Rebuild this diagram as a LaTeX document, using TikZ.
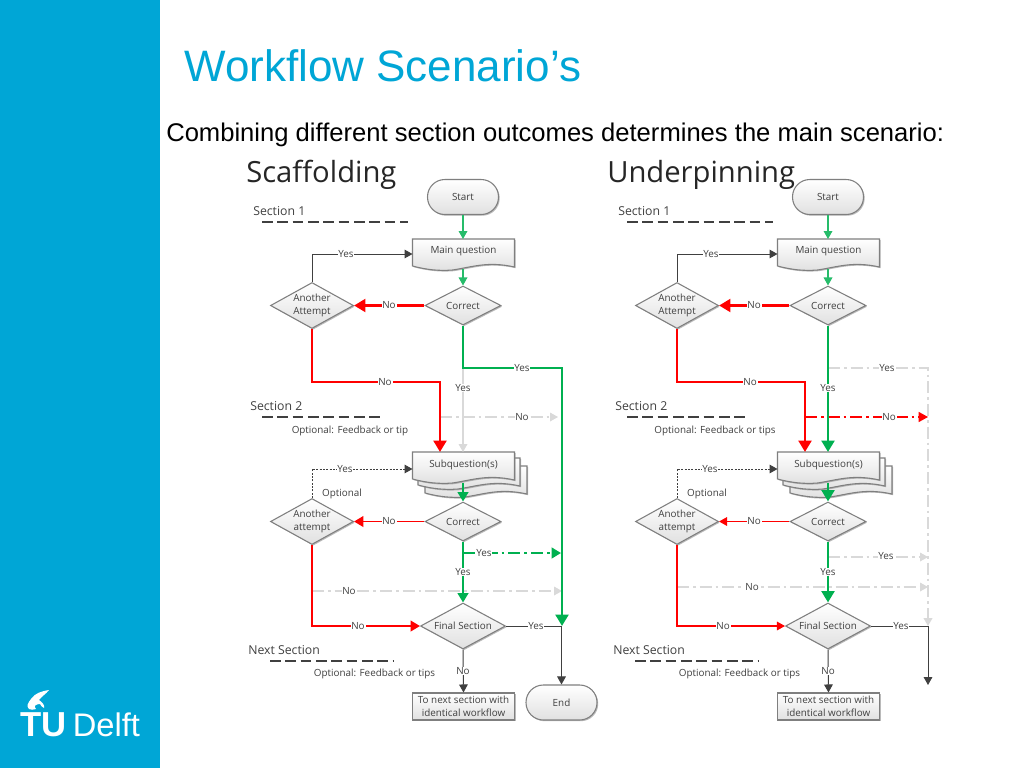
\documentclass[tikz,border=0pt]{standalone}
\usepackage{fontspec}
\setmainfont{Liberation Sans}
\newfontfamily\chartfont{Open Sans}
\usetikzlibrary{shapes.geometric,arrows.meta,shadows}
\definecolor{tublue}{HTML}{00A6D6}
\definecolor{gogreen}{HTML}{00B050}
\definecolor{flowgrey}{HTML}{404040}
\definecolor{ghost}{HTML}{D9D9D9}
\definecolor{edgegrey}{HTML}{7F7F7F}
\tikzset{
  softshadow/.style={drop shadow={shadow xshift=.9pt,shadow yshift=-.9pt,fill=black!45,opacity=.6}},
  boxfill/.style={draw=edgegrey,line width=.8pt,top color=white,bottom color=black!12,softshadow},
  startbox/.style={boxfill,rectangle,rounded corners=13pt,minimum width=71*.75pt,minimum height=35*.75pt,inner sep=0pt},
  choice/.style={boxfill,diamond,inner sep=0pt,align=center,minimum width=76*.75pt,minimum height=39*.75pt,aspect=2},
  bigchoice/.style={boxfill,diamond,inner sep=0pt,align=center,minimum width=#1*.75pt,minimum height=46*.75pt,aspect=1.8},
  plainbox/.style={boxfill,rectangle,align=center,inner sep=0pt,minimum width=102*.75pt,minimum height=27*.75pt},
  docsheet/.style={boxfill},
  docanchor/.style={rectangle,inner sep=0pt,minimum width=102*.75pt,minimum height=30*.75pt},
  small/.style={font=\chartfont\fontsize{7.4pt}{9.4pt}\selectfont,text=flowgrey},
  lab/.style={small,fill=white,inner sep=.6pt},
  sect/.style={font=\chartfont\fontsize{9.2pt}{11pt}\selectfont,text=flowgrey,anchor=west,inner sep=0pt},
  free/.style={small,inner sep=0pt},
  sectline/.style={draw=flowgrey,line width=.8pt,dash pattern=on 8pt off 3.5pt},
  thin tip/.style={-{Triangle[length=6pt,width=6.5pt]}},
  fat tip/.style={-{Triangle[length=8.5pt,width=9.5pt]}},
  grey line/.style={draw=flowgrey,line width=.75pt,thin tip},
  grey dots/.style={grey line,dash pattern=on 1.5pt off 1pt},
  fat red/.style={draw=red,line width=2.2pt,fat tip},
  mid red/.style={draw=red,line width=1.3pt,-{Triangle[length=7pt,width=8pt]}},
  thin red/.style={draw=red,line width=.8pt,thin tip},
  fat green/.style={draw=gogreen,line width=2.2pt,fat tip},
  mid green/.style={draw=gogreen,line width=1.5pt,-{Triangle[length=7pt,width=8pt]}},
  thin green/.style={draw=gogreen!85!white,line width=.9pt,thin tip},
  dashdot/.style={dash pattern=on 9pt off 3pt on 2pt off 3pt},
  ghost line/.style={draw=ghost,line width=.9pt,dashdot,thin tip},
  title text/.style={font=\fontsize{33pt}{36pt}\selectfont,text=tublue,anchor=west,inner sep=0pt},
  sub text/.style={font=\fontsize{19.2pt}{22pt}\selectfont,text=black,anchor=west,inner sep=0pt},
  head text/.style={font=\chartfont\fontsize{21.9pt}{24pt}\selectfont,text=black!85,anchor=west,inner sep=0pt},
  logo bold/.style={font=\bfseries\fontsize{26pt}{28pt}\selectfont,text=white,anchor=base west,inner sep=0pt},
  logo thin/.style={font=\fontsize{24.5pt}{28pt}\selectfont,text=white,anchor=base west,inner sep=0pt},
}
\newcommand{\docwave}[2]{\draw[docsheet,shift={(#1,#2)}] (0,0) -- (102,0) -- (102,28)
  .. controls (75,22) and (60,28) .. (40,31) .. controls (27,32) and (15,31) .. (0,27) -- cycle;}
\newcommand{\lab}[4]{\node[lab] (#1) at (#2,#3) {#4};}
\newcommand{\chartnodes}[1]{%
  \node[startbox,small] (start) at (463,197) {Start};
  \docwave{412.5}{239}
  \node[docanchor,small] (mq) at (463.5,251) {Main question};
  \coordinate (mqn) at (463,239);
  \coordinate (mqs) at (463,269);
  \coordinate (mqw) at (412.5,254);
  \node[choice,small] (c1) at (463,305.5) {Correct};
  \node[bigchoice=83,small] (a1) at (312,305.5) {Another\\Attempt};
  \docwave{425}{466}
  \docwave{418}{458}
  \docwave{412.5}{452}
  \node[docanchor,small] (sq) at (463.5,464.5) {Subquestion(s)};
  \coordinate (sqs) at (463,483);
  \coordinate (sqn) at (463,452);
  \coordinate (sqw) at (412.5,469);
  \node[choice,small] (c2) at (463,521.5) {Correct};
  \node[bigchoice=83,small] (a2) at (312,521.5) {Another\\attempt};
  \node[bigchoice=85,small] (fs) at (463,626) {Final Section};
  \node[plainbox,small] (nx) at (463.5,706.5) {To next section with\\identical workflow};
  \node[sect] (s1) at (253,211) {Section 1};
  \node[sect] (s2) at (250,406.5) {Section 2};
  \node[sect] (s3) at (248,650) {Next Section};
  \coordinate (d1a) at (262,222); \coordinate (d1b) at (408,222);
  \coordinate (d2a) at (262,417); \coordinate (d2b) at (384,417);
  \coordinate (d3a) at (270,661); \coordinate (d3b) at (393,661);
  \draw[sectline] (d1a) -- (d1b);
  \draw[sectline] (d2a) -- (d2b);
  \draw[sectline] (d3a) -- (d3b);
  \node[free] (opt1) at (350,431) {Optional: Feedback or #1};
  \node[free] (opt2) at (342,493.5) {Optional};
  \node[free] (opt3) at (374.5,674) {Optional: Feedback or tips};
  \draw[thin green] (start) -- (mqn);
  \draw[thin green] (mqs) -- (c1);
  \draw[grey line] (a1.north) |- (mqw);
  \draw[grey dots] (a2.north) |- (sqw);
  \draw[grey line] (fs.south) -- (nx.north);
}
\begin{document}
\begin{tikzpicture}[x=.75pt,y=-.75pt]
\useasboundingbox (0,0) rectangle (1024,768);
\fill[white] (0,0) rectangle (1024,768);
\fill[tublue] (0,0) rectangle (160,768);
% logo
\fill[white] (49,690) .. controls (42,691) and (35,693) .. (31,699) .. controls (28,703) and (26,706) .. (29,709)
  .. controls (31,710) and (33,710) .. (36,709) .. controls (33,706) and (36,704) .. (40,704) .. controls (41,706) and (42,707) .. (44,708)
  .. controls (45,705) and (42,702) .. (39,700) .. controls (42,696) and (46,694) .. (49,690) -- cycle;
\node[logo bold] (tu) at (20.5,736) {TU};
\node[logo thin] (delft) at (72.5,736) {Delft};
\node[title text] (title) at (184,66) {Workflow Scenario’s};
\node[sub text] (subtitle) at (166,135) {Combining different section outcomes determines the main scenario:};
\node[head text] (scaf) at (246,174.5) {Scaffolding};
\node[head text] (under) at (607,174.5) {Underpinning};
% ---------- Scaffolding
\begin{scope}[name prefix=s-]
  \chartnodes{tip}
  \coordinate (r1) at (440,382);
  \coordinate (g1) at (562,368);
  \coordinate (g2) at (562,626);
  \node[startbox,small] (end) at (561.5,702.5) {End};
  \coordinate (gh1) at (463,368);
  \coordinate (gh2) at (440,417);
  \coordinate (gh3) at (558,417);
  \coordinate (gd1) at (463,553);
  \coordinate (gd2) at (561,553);
  \coordinate (gh4) at (312,591);
  \coordinate (gh5) at (562,591);
  \draw[ghost line,solid] (gh1) -- (sqn);
  \draw[ghost line] (gh2) -- (gh3);
  \draw[ghost line] (gh4) -- (gh5);
  \draw[fat red] (a1.south) |- (r1) -- (r1 |- sqn);
  \draw[fat red] (c1.west) -- (a1.east);
  \draw[fat green] (c1.south) |- (g1) -- (g2);
  \draw[mid green] (sqs) -- (c2.north);
  \draw[mid red] (c2.west) -- (a2.east);
  \draw[mid red] (a2.south) |- (fs.west);
  \draw[mid green] (c2.south) -- (fs.north);
  \draw[mid green,dashdot] (gd1) -- (gd2);
  \draw[grey line] (fs.east) -| (end.north);
  \lab{y1}{346}{254}{Yes}
  \lab{n1}{389}{305.5}{No}
  \lab{n2}{385}{382}{No}
  \lab{y2}{522}{368}{Yes}
  \lab{y3}{463}{388}{Yes}
  \lab{n3}{522}{417}{No}
  \lab{y4}{345}{469}{Yes}
  \lab{n4}{389}{521.5}{No}
  \lab{y5}{484}{553}{Yes}
  \lab{y6}{463}{572}{Yes}
  \lab{n5}{349}{591}{No}
  \lab{n6}{358}{626}{No}
  \lab{y7}{536}{626}{Yes}
  \lab{n7}{463}{671}{No}
\end{scope}
% ---------- Underpinning
\begin{scope}[shift={(365,0)},name prefix=u-]
  \chartnodes{tips}
  \coordinate (r1) at (440,382);
  \coordinate (gy1) at (463,368);
  \coordinate (gy2) at (563,368);
  \coordinate (gy3) at (563,626);
  \coordinate (rd1) at (440,417);
  \coordinate (rd2) at (563,417);
  \coordinate (gy4) at (463,557);
  \coordinate (gy5) at (563,557);
  \coordinate (gy6) at (312,587);
  \coordinate (gy7) at (563,587);
  \coordinate (fe1) at (563,626);
  \coordinate (fe2) at (563,685);
  \draw[ghost line,line width=1.3pt] (gy1) -- (gy2) -- (gy3);
  \draw[ghost line] (gy4) -- (gy5);
  \draw[ghost line] (gy6) -- (gy7);
  \draw[draw=red,line width=.9pt,dashdot,-{Triangle[length=7pt,width=7.5pt]}] (rd1) -- (rd2);
  \draw[fat red] (a1.south) |- (r1) -- (r1 |- sqn);
  \draw[fat red] (c1.west) -- (a1.east);
  \draw[fat green] (c1.south) -- (sqn);
  \draw[fat green] (sqs) -- (c2.north);
  \draw[thin red] (c2.west) -- (a2.east);
  \draw[thin red] (a2.south) |- (fs.west);
  \draw[fat green] (c2.south) -- (fs.north);
  \draw[grey line] (fs.east) -- (fe1) -- (fe2);
  \lab{y1}{346}{254}{Yes}
  \lab{n1}{389}{305.5}{No}
  \lab{n2}{385}{382}{No}
  \lab{y2}{522}{368}{Yes}
  \lab{y3}{463}{388}{Yes}
  \lab{n3}{524}{417}{No}
  \lab{y4}{345}{469}{Yes}
  \lab{n4}{389}{521.5}{No}
  \lab{y5}{521}{556}{Yes}
  \lab{y6}{463}{572}{Yes}
  \lab{n5}{387}{587}{No}
  \lab{n6}{358}{626}{No}
  \lab{y7}{536}{626}{Yes}
  \lab{n7}{463}{671}{No}
\end{scope}
\end{tikzpicture}
\end{document}
